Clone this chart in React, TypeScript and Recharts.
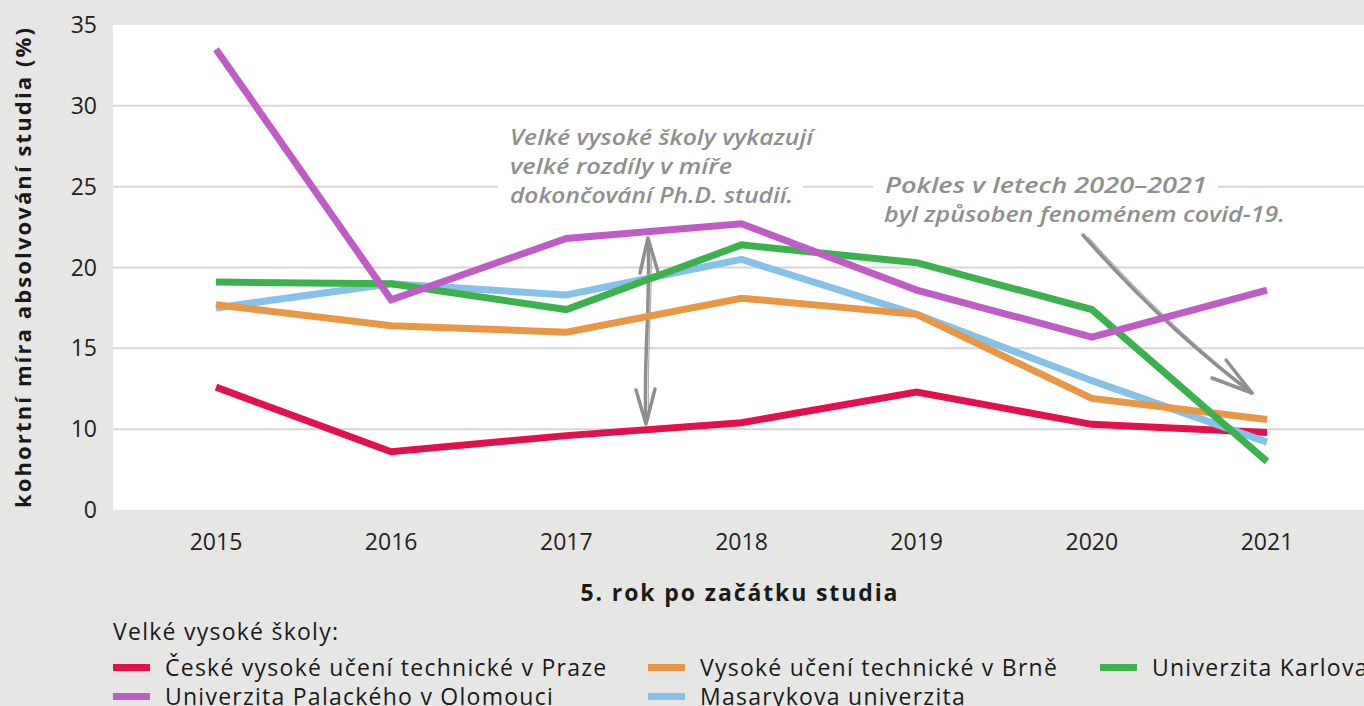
import React from 'react';
import { LineChart, Line, XAxis, YAxis, CartesianGrid, Customized } from 'recharts';

const years = ['2015', '2016', '2017', '2018', '2019', '2020', '2021'];

const cvut = [12.6, 8.6, 9.6, 10.4, 12.3, 10.3, 9.8];
const vut = [17.7, 16.4, 16.0, 18.1, 17.1, 11.9, 10.6];
const uk = [19.1, 19.0, 17.4, 21.4, 20.3, 17.4, 8.0];
const upol = [33.5, 18.0, 21.8, 22.7, 18.6, 15.7, 18.6];
const muni = [17.5, 19.0, 18.3, 20.5, 17.1, 13.0, 9.2];

// the source axis jumps from 10 straight to "0" on its lowest gridline
const yTicks = [5, 10, 15, 20, 25, 30, 35];
const yTickLabels = ['0', '10', '15', '20', '25', '30', '35'];
const gridValues = [10, 15, 20, 25, 30];

const series = [
  { key: 'cvut', name: 'České vysoké učení technické v Praze', color: '#e2104c', values: cvut },
  { key: 'vut', name: 'Vysoké učení technické v Brně', color: '#e99745', values: vut },
  { key: 'uk', name: 'Univerzita Karlova', color: '#3cb24f', values: uk },
  { key: 'upol', name: 'Univerzita Palackého v Olomouci', color: '#bf5cc6', values: upol },
  { key: 'muni', name: 'Masarykova univerzita', color: '#86c1ea', values: muni },
];

// draw order, bottom to top
const drawOrder = ['cvut', 'muni', 'vut', 'uk', 'upol'];

const data = years.map((year, i) => {
  const row: any = { year };
  series.forEach((s) => {
    row[s.key] = s.values[i];
  });
  return row;
});

const FONT = '"Open Sans", sans-serif';
const HAND = '"Open Sans", sans-serif';
const GREY = '#8f8f8f';

const Annotations = () => (
  <g>
    <rect x={498} y={118} width={305} height={94} fill="#fff" />
    <rect x={873} y={168} width={345} height={64} fill="#fff" />
    <g fill={GREY} fontFamily={HAND} fontStyle="italic" fontWeight={600} fontSize={22}>
      <text x={510} y={145} textLength={303} lengthAdjust="spacingAndGlyphs">Velké vysoké školy vykazují</text>
      <text x={510} y={174} textLength={222} lengthAdjust="spacingAndGlyphs">velké rozdíly v míře</text>
      <text x={510} y={203} textLength={283} lengthAdjust="spacingAndGlyphs">dokončování Ph.D. studií.</text>
      <text x={885} y={193} textLength={322} lengthAdjust="spacingAndGlyphs">Pokles v letech 2020–2021</text>
      <text x={884} y={222} textLength={401} lengthAdjust="spacingAndGlyphs">byl způsoben fenoménem covid-19.</text>
    </g>
    <g fill="none" stroke={GREY} strokeWidth={3.5} strokeLinecap="round" strokeLinejoin="round">
      <path d="M648 240 C651 300 643 360 646 422" />
      <path d="M640 273 L648 238 L658 272" />
      <path d="M636 390 L646 424 L655 389" />
      <path d="M1083 235 Q1165 328 1252 393" />
      <path d="M1226 360 L1252 393 L1212 378" />
    </g>
    <g fill="none" stroke={GREY} strokeWidth={1.2} opacity={0.7}>
      <path d="M651 245 C653 300 646 360 649 418" />
      <path d="M1088 237 Q1168 326 1248 389" />
    </g>
    <text x={22} y={268} transform="rotate(-90 22 268)" textAnchor="middle" dominantBaseline="central"
      fontFamily={FONT} fontWeight={700} fontSize={22} fill="#1a1a1a" textLength={480} lengthAdjust="spacing">
      kohortní míra absolvování studia (%)
    </text>
    <text x={739} y={592} textAnchor="middle" dominantBaseline="central"
      fontFamily={FONT} fontWeight={700} fontSize={23} fill="#1a1a1a" textLength={317} lengthAdjust="spacing">
      5. rok po začátku studia
    </text>
  </g>
);

const legendRows = [
  ['cvut', 'vut', 'uk'],
  ['upol', 'muni'],
];
const legendCols = [113, 648, 1100];

const legendText: React.CSSProperties = {
  fontFamily: FONT,
  fontSize: 23,
  letterSpacing: '1.25px',
  color: '#1a1a1a',
  whiteSpace: 'nowrap',
};

const App = () => {
  return (
    <div style={{ position: 'absolute', left: 0, top: 0, width: 1364, height: 706, background: '#e6e6e4', overflow: 'hidden' }}>
      <LineChart width={1364} height={706} data={data} margin={{ top: 25, right: 0, left: 0, bottom: 156 }}>
        <CartesianGrid vertical={false} horizontalValues={gridValues} stroke="#d6d6d6" strokeWidth={2} fill="#ffffff" />
        <XAxis
          dataKey="year"
          height={40}
          padding={{ left: 103, right: 97 }}
          axisLine={false}
          tickLine={false}
          tickSize={0}
          tickMargin={24}
          tick={{ fill: '#222', fontSize: 23, fontFamily: FONT }}
        />
        <YAxis
          type="number"
          width={113}
          domain={[5, 35]}
          ticks={yTicks}
          interval={0}
          tickFormatter={(v: number) => yTickLabels[yTicks.indexOf(v)]}
          axisLine={false}
          tickLine={false}
          tickSize={0}
          tickMargin={16}
          tick={{ fill: '#222', fontSize: 23, fontFamily: FONT }}
        />
        <Customized component={Annotations} />
        {drawOrder.map((k) => {
          const s = series.find((x) => x.key === k)!;
          return (
            <Line
              key={s.key}
              dataKey={s.key}
              name={s.name}
              type="linear"
              stroke={s.color}
              strokeWidth={7}
              strokeLinecap="butt"
              dot={false}
              activeDot={false}
              isAnimationActive={false}
            />
          );
        })}
      </LineChart>
      <div style={{ ...legendText, position: 'absolute', left: 113, top: 616, lineHeight: '30px' }}>
        Velké vysoké školy:
      </div>
      {legendRows.map((row, ri) =>
        row.map((k, ci) => {
          const s = series.find((x) => x.key === k)!;
          return (
            <div key={k} style={{ ...legendText, position: 'absolute', left: legendCols[ci], top: 652 + ri * 29, height: 30, display: 'flex', alignItems: 'center' }}>
              <span style={{ display: 'inline-block', width: 37, height: 7, background: s.color, marginRight: 15 }} />
              {s.name}
            </div>
          );
        })
      )}
    </div>
  );
};

export default App;
